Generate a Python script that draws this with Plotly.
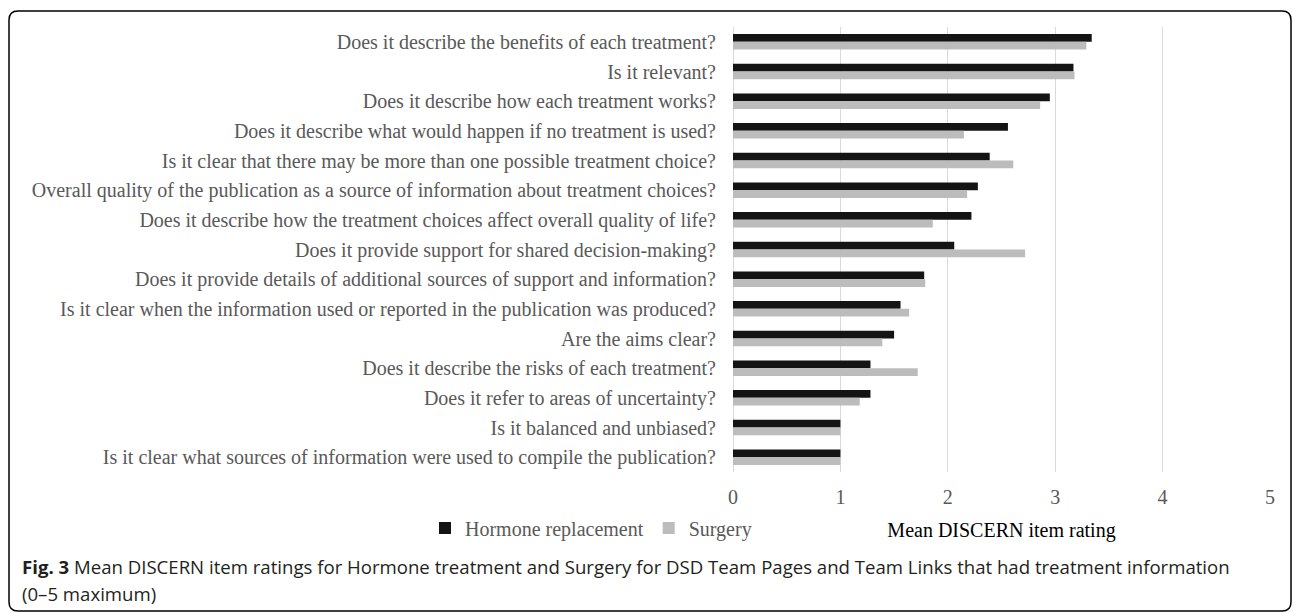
import plotly.graph_objects as go

questions = [
    "Does it describe the benefits of each treatment?",
    "Is it relevant?",
    "Does it describe how each treatment works?",
    "Does it describe what would happen if no treatment is used?",
    "Is it clear that there may be more than one possible treatment choice?",
    "Overall quality of the publication as a source of information about treatment choices?",
    "Does it describe how the treatment choices affect overall quality of life?",
    "Does it provide support for shared decision-making?",
    "Does it provide details of additional sources of support and information?",
    "Is it clear when the information used or reported in the publication was produced?",
    "Are the aims clear?",
    "Does it describe the risks of each treatment?",
    "Does it refer to areas of uncertainty?",
    "Is it balanced and unbiased?",
    "Is it clear what sources of information were used to compile the publication?",
]
hormone = [3.34, 3.17, 2.95, 2.56, 2.39, 2.28, 2.22, 2.06, 1.78, 1.56, 1.50, 1.28, 1.28, 1.00, 1.00]
surgery = [3.29, 3.18, 2.86, 2.15, 2.61, 2.18, 1.86, 2.72, 1.79, 1.64, 1.39, 1.72, 1.18, 1.00, 1.00]
series_names = ["Hormone replacement", "Surgery"]
x_ticks = [0, 1, 2, 3, 4, 5]

W_FIG, H_FIG = 1293, 613
L, T, R, B = 733, 27, 23, 141
PW, PH = W_FIG - L - R, H_FIG - T - B


def px(x):
    return (x - L) / PW


def py(y):
    return 1 - (y - T) / PH


SERIF = "Liberation Serif, Times New Roman, serif"
GRAY = "#595959"
CAP_FONT = dict(family="Open Sans, sans-serif", size=18.6, color="#231f20")

fig = go.Figure()
fig.add_trace(go.Bar(y=questions, x=hormone, name=series_names[0], orientation="h",
                     marker=dict(color="#141414", line=dict(width=0))))
fig.add_trace(go.Bar(y=questions, x=surgery, name=series_names[1], orientation="h",
                     marker=dict(color="#bcbcbc", line=dict(width=0))))

# rounded frame
x0, x1, y0, y1, r = 9, 1291, 11, 611, 9
path = (f"M {px(x0 + r)},{py(y0)} L {px(x1 - r)},{py(y0)} Q {px(x1)},{py(y0)} {px(x1)},{py(y0 + r)} "
        f"L {px(x1)},{py(y1 - r)} Q {px(x1)},{py(y1)} {px(x1 - r)},{py(y1)} "
        f"L {px(x0 + r)},{py(y1)} Q {px(x0)},{py(y1)} {px(x0)},{py(y1 - r)} "
        f"L {px(x0)},{py(y0 + r)} Q {px(x0)},{py(y0)} {px(x0 + r)},{py(y0)} Z")

fig.update_layout(
    width=W_FIG, height=H_FIG,
    margin=dict(l=L, r=R, t=T, b=B, pad=0),
    paper_bgcolor="white", plot_bgcolor="white",
    barmode="group", bargap=0.48, bargroupgap=0,
    font=dict(family=SERIF, size=20, color=GRAY),
    xaxis=dict(range=[0, 5], tickvals=x_ticks, showgrid=True, gridcolor="#d9d9d9", gridwidth=1,
               zeroline=True, zerolinecolor="#d9d9d9", zerolinewidth=1, showline=False,
               tickfont=dict(family=SERIF, size=20, color=GRAY), ticklabelstandoff=11,
               title=dict(text="Mean DISCERN item rating", font=dict(family=SERIF, size=20, color="black"),
                          standoff=15)),
    yaxis=dict(autorange="reversed", showgrid=False, showline=False, zeroline=False,
               tickfont=dict(family=SERIF, size=20, color=GRAY), ticklabelstandoff=16),
    legend=dict(orientation="h", x=px(425), xanchor="left", y=py(528), yanchor="middle",
                font=dict(family=SERIF, size=20, color=GRAY), bgcolor="rgba(0,0,0,0)",
                traceorder="normal"),
    shapes=[dict(type="path", xref="paper", yref="paper", path=path,
                 line=dict(color="black", width=1.5), fillcolor="rgba(0,0,0,0)", layer="below")],
    annotations=[
        dict(xref="paper", yref="paper", x=px(20), y=py(566), xanchor="left", yanchor="middle",
             showarrow=False, align="left",
             text="<b>Fig. 3</b> Mean DISCERN item ratings for Hormone treatment and Surgery for DSD Team Pages and Team Links that had treatment information",
             font=CAP_FONT),
        dict(xref="paper", yref="paper", x=px(20), y=py(593), xanchor="left", yanchor="middle",
             showarrow=False, align="left", text="(0–5 maximum)", font=CAP_FONT),
    ],
)

fig.write_html("out.html")
